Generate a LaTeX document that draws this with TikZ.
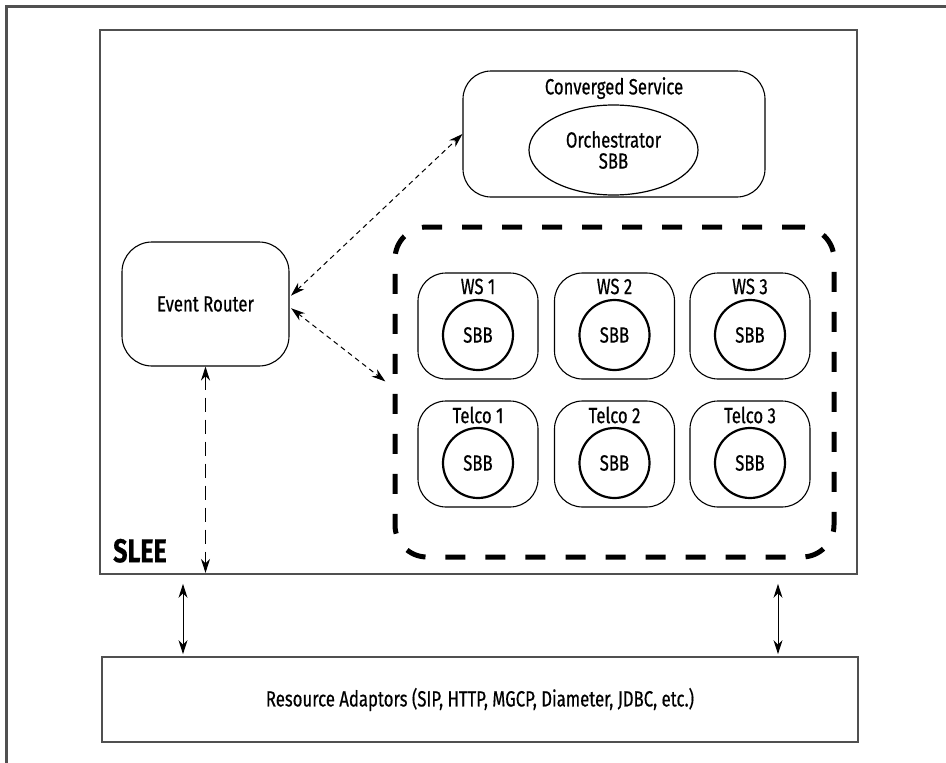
\documentclass[tikz,border=0pt]{standalone}
\usepackage{xcolor}
\usepackage{tikz}
\usepackage{fontspec}
\setmainfont{Fira Sans}[FakeStretch=0.76, FakeBold=0.5]
\usetikzlibrary{shapes.geometric, arrows.meta, positioning, calc}
\definecolor{framegray}{HTML}{505050}

\begin{document}
\begin{tikzpicture}[
  x=1pt, y=-1pt,
  every node/.style={font=\fontsize{22}{24}\selectfont},
  container/.style={rectangle, draw=framegray, line width=1.8pt, minimum width=757pt, minimum height=544pt, inner sep=0pt},
  rabox/.style={rectangle, draw=framegray, line width=1.8pt, minimum width=756pt, minimum height=85pt},
  router/.style={rectangle, rounded corners=30pt, draw, line width=1.1pt, minimum width=167pt, minimum height=124pt},
  service/.style={rectangle, rounded corners=28pt, draw, line width=1.1pt, minimum width=302pt, minimum height=126pt},
  orch/.style={ellipse, draw, line width=1.2pt, minimum width=169pt, minimum height=90pt, inner sep=0pt, align=center, font=\fontsize{22}{21}\selectfont},
  group/.style={rectangle, rounded corners=32pt, draw, line width=5pt, dash pattern=on 20pt off 20pt, minimum width=439pt, minimum height=330pt},
  svc/.style={rectangle, rounded corners=28pt, draw, line width=1.1pt, minimum width=120pt, minimum height=106pt,
    label={[anchor=north, inner sep=0pt, yshift=-6pt]north:#1}},
  sbb/.style={circle, draw, line width=2.2pt, minimum size=70pt, inner sep=0pt},
  thin dash/.style={dash pattern=on 5pt off 4pt},
  long dash/.style={dash pattern=on 14pt off 8pt},
  arrow/.style={{Stealth[length=14pt,width=9pt]}-{Stealth[length=14pt,width=9pt]}, line width=1pt}
]
  % frame
  \useasboundingbox (0,0) rectangle (946,763);
  \draw[framegray, line width=2.5pt] (6.5,763) -- (6.5,6.5) -- (946,6.5);

  % SLEE and adaptors
  \node[container] (slee) at (478.5,302) {};
  \node[font=\fontsize{33}{33}\selectfont\bfseries, anchor=south west, inner sep=0pt] (sleelabel) at (113,563) {SLEE};
  \node[rabox] (ra) at (480,699.5) {Resource Adaptors (SIP, HTTP, MGCP, Diameter, JDBC, etc.)};

  \node[router] (router) at (205.5,304) {Event Router};

  \node[service] (conv) at (614,134) {};
  \node[anchor=north, inner sep=0pt] (convlabel) at (614,77) {Converged Service};
  \node[orch] (orch) at (613.5,150) {Orchestrator\\SBB};

  % service building blocks
  \node[group] (grp) at (614.5,392) {};
  \node[svc={WS 1}] (ws1) at (478,326) {};
  \node[svc={WS 2}] (ws2) at (614.5,326) {};
  \node[svc={WS 3}] (ws3) at (750,326) {};
  \node[svc={Telco 1}] (tel1) at (478,454) {};
  \node[svc={Telco 2}] (tel2) at (614.5,454) {};
  \node[svc={Telco 3}] (tel3) at (750,454) {};
  \node[sbb] (ws1sbb) at (478,335) {SBB};
  \node[sbb] (ws2sbb) at (614.5,335) {SBB};
  \node[sbb] (ws3sbb) at (750,335) {SBB};
  \node[sbb] (tel1sbb) at (478,463) {SBB};
  \node[sbb] (tel2sbb) at (614.5,463) {SBB};
  \node[sbb] (tel3sbb) at (750,463) {SBB};

  % connectors
  \draw[arrow, thin dash, shorten <=2pt] ([yshift=7pt]router.east) -- (conv.west);
  \draw[arrow, thin dash, shorten <=2pt, shorten >=9pt] ([yshift=-3pt]router.east) -- ($(grp.west)+(0,-5)$);
  \draw[arrow, long dash, shorten >=2pt] (router.south) -- (router.south |- slee.south);

  \coordinate (leftlink) at (183,0);
  \coordinate (rightlink) at (778,0);
  \draw[arrow, shorten <=9pt, shorten >=2pt] (leftlink |- slee.south) -- (leftlink |- ra.north);
  \draw[arrow, shorten <=9pt, shorten >=2pt] (rightlink |- slee.south) -- (rightlink |- ra.north);
\end{tikzpicture}
\end{document}
